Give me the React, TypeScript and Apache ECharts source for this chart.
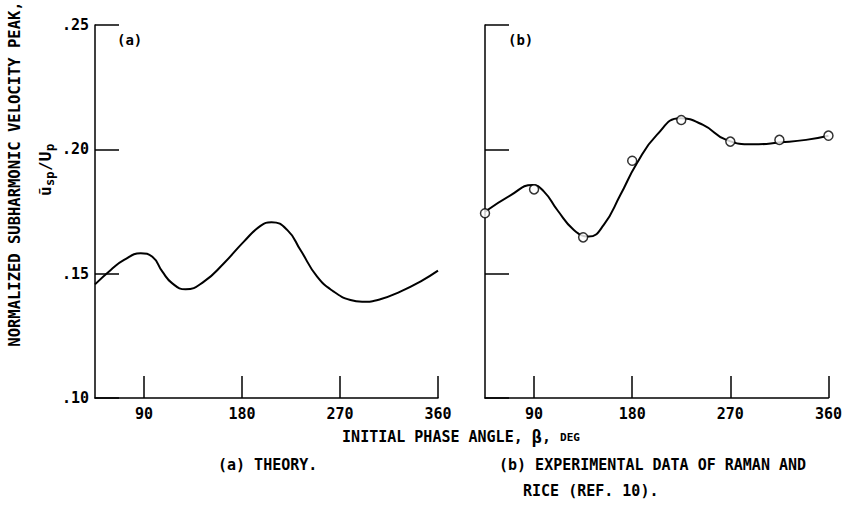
import React, { useEffect, useRef } from "react";
import * as echarts from "echarts";

// ---- data ----
const xTickValues = [90, 180, 270, 360];

// (a) theory curve
const theoryDeg = [45, 59.5, 71.7, 87, 97.7, 106.9, 116, 128.2, 145, 163.4, 181.7, 197, 207.1, 221.5, 233.7, 249, 264.2, 279.6, 290.3, 307, 325.4, 343.8, 360];
const theoryVal = [0.1457, 0.1515, 0.1555, 0.1582, 0.1568, 0.1508, 0.1461, 0.1437, 0.1468, 0.1542, 0.1629, 0.1692, 0.1707, 0.1676, 0.1595, 0.1488, 0.1428, 0.1394, 0.1387, 0.1397, 0.1428, 0.1468, 0.1512];

// (b) experimental points
const expDeg = [45, 90, 135, 180, 225, 270, 315, 360];
const expVal = [0.1743, 0.1839, 0.1646, 0.1954, 0.2118, 0.2031, 0.2038, 0.2055];

// (b) faired curve through the points
const fitDeg = [45, 68.7, 88.5, 99.1, 111.3, 126.5, 140.2, 153.9, 169.1, 184.3, 202.6, 223.8, 245, 266.4, 290.7, 316.6, 339.4, 360];
const fitVal = [0.1749, 0.1816, 0.1857, 0.183, 0.1756, 0.1676, 0.1649, 0.1696, 0.1816, 0.1944, 0.2058, 0.2125, 0.2098, 0.2038, 0.202, 0.2028, 0.2038, 0.2055];

const FONT = "'DejaVu Sans Mono', monospace";

export default function App() {
  const ref = useRef<HTMLDivElement>(null);

  useEffect(() => {
    if (!ref.current) return;
    const chart = echarts.init(ref.current, null, { renderer: "svg" });

    const axisLineStyle = { color: "#000", width: 1.5 };
    const makeX = (gridIndex: number) => ({
      type: "value",
      gridIndex,
      min: 45,
      max: 360,
      axisLine: { show: true, onZero: false, lineStyle: axisLineStyle },
      axisTick: { show: true, inside: true, length: 22, customValues: xTickValues, lineStyle: { color: "#000", width: 1.5 } },
      axisLabel: {
        customValues: xTickValues,
        color: "#000",
        fontFamily: FONT,
        fontSize: 15,
        fontWeight: "bold",
        margin: 8,
      },
      splitLine: { show: false },
    });
    const makeY = (gridIndex: number, showLabel: boolean) => ({
      type: "value",
      gridIndex,
      min: 0.1,
      max: 0.25,
      interval: 0.05,
      axisLine: { show: true, onZero: false, lineStyle: axisLineStyle },
      axisTick: { show: true, inside: true, length: 24, lineStyle: { color: "#000", width: 1.5 } },
      axisLabel: {
        show: showLabel,
        color: "#000",
        fontFamily: FONT,
        fontSize: 15,
        fontWeight: "bold",
        margin: 6,
        formatter: (v: number) => "." + (v * 100).toFixed(0),
      },
      splitLine: { show: false },
    });

    const textStyle = (extra: any = {}) => ({
      fill: "#000",
      fontFamily: FONT,
      fontWeight: "bold",
      fontSize: 15,
      ...extra,
    });

    chart.setOption({
      animation: false,
      backgroundColor: "#fff",
      grid: [
        { left: 95, top: 25, width: 343, height: 373 },
        { left: 485, top: 25, width: 345, height: 373 },
      ],
      xAxis: [makeX(0), makeX(1)],
      yAxis: [makeY(0, true), makeY(1, false)],
      series: [
        {
          type: "line",
          xAxisIndex: 0,
          yAxisIndex: 0,
          data: theoryDeg.map((d, i) => [d, theoryVal[i]]),
          smooth: 0.5,
          showSymbol: false,
          lineStyle: { color: "#000", width: 2 },
        },
        {
          type: "line",
          xAxisIndex: 1,
          yAxisIndex: 1,
          data: fitDeg.map((d, i) => [d, fitVal[i]]),
          smooth: 0.5,
          showSymbol: false,
          lineStyle: { color: "#000", width: 2 },
        },
        {
          type: "scatter",
          xAxisIndex: 1,
          yAxisIndex: 1,
          data: expDeg.map((d, i) => [d, expVal[i]]),
          symbol: "circle",
          symbolSize: 9,
          itemStyle: { color: "#fff", borderColor: "#000", borderWidth: 1.5 },
          z: 5,
        },
      ],
      graphic: [
        {
          type: "text",
          x: 15,
          y: 174,
          rotation: Math.PI / 2,
          style: textStyle({ text: "NORMALIZED SUBHARMONIC VELOCITY PEAK,", align: "center", verticalAlign: "middle", fontSize: 15.5 }),
        },
        {
          type: "group",
          x: 45,
          y: 196,
          rotation: Math.PI / 2,
          children: [
            { type: "text", x: 0, y: 0, style: textStyle({ text: "ũ", verticalAlign: "middle", fontSize: 16 }) },
            { type: "text", x: 10, y: 5, style: textStyle({ text: "sp", verticalAlign: "middle", fontSize: 12 }) },
            { type: "text", x: 25, y: 0, style: textStyle({ text: "/U", verticalAlign: "middle", fontSize: 16 }) },
            { type: "text", x: 45, y: 5, style: textStyle({ text: "p", verticalAlign: "middle", fontSize: 12 }) },
          ],
        },
        { type: "text", x: 117, y: 40, style: textStyle({ text: "(a)", verticalAlign: "middle", fontSize: 14 }) },
        { type: "text", x: 508, y: 40, style: textStyle({ text: "(b)", verticalAlign: "middle", fontSize: 14 }) },
        {
          type: "text",
          x: 461,
          y: 437,
          style: {
            text: "{a|INITIAL PHASE ANGLE, }{b|β}{a|, }{c|DEG}",
            align: "center",
            verticalAlign: "middle",
            rich: {
              a: { fontFamily: FONT, fontWeight: "bold", fontSize: 15, color: "#000" },
              b: { fontFamily: FONT, fontWeight: "bold", fontSize: 17, color: "#000" },
              c: { fontFamily: FONT, fontWeight: "bold", fontSize: 11, color: "#000" },
            },
          },
        },
        { type: "text", x: 218, y: 465, style: textStyle({ text: "(a) THEORY.", verticalAlign: "middle" }) },
        { type: "text", x: 499, y: 465, style: textStyle({ text: "(b) EXPERIMENTAL DATA OF RAMAN AND", verticalAlign: "middle" }) },
        { type: "text", x: 523, y: 491, style: textStyle({ text: "RICE (REF. 10).", verticalAlign: "middle" }) },
      ],
    });

    return () => chart.dispose();
  }, []);

  return (
    <div
      ref={ref}
      style={{ position: "fixed", left: 0, top: 0, width: 845, height: 509, background: "#fff" }}
    />
  );
}
